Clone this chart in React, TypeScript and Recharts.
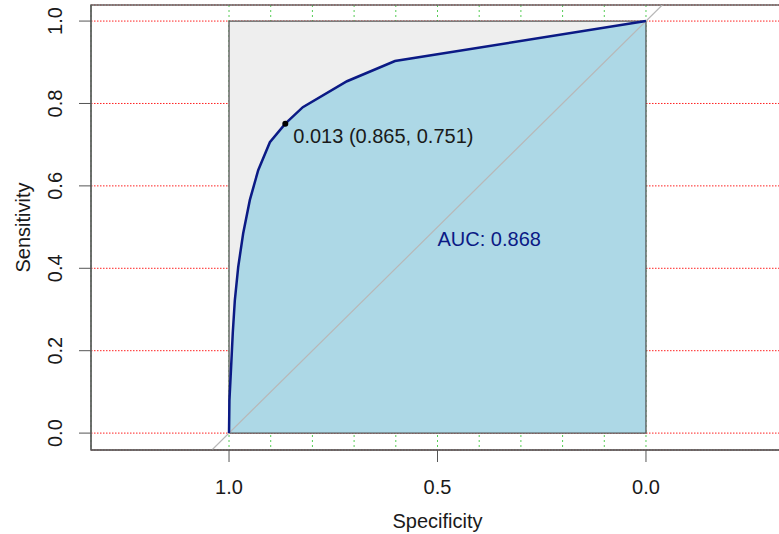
import {
  Area,
  CartesianGrid,
  ComposedChart,
  Line,
  ReferenceArea,
  Scatter,
  XAxis,
  YAxis,
} from "recharts";

// ROC curve (specificity runs 1 -> 0 along the curve)
const rocSpecificity = [1, 0.999, 0.995, 0.991, 0.986, 0.978, 0.966, 0.95, 0.93, 0.902, 0.865, 0.823, 0.717, 0.602, 0];
const rocSensitivity = [0, 0.08, 0.16, 0.243, 0.323, 0.403, 0.485, 0.566, 0.638, 0.706, 0.751, 0.791, 0.854, 0.903, 1];

// the max-AUC square and the chance diagonal
const squareSpec = [1, 1, 0, 0, 1];
const squareSens = [0, 1, 1, 0, 0];
const diagSpec = [1.041, -0.039];
const diagSens = [-0.041, 1.039];

const xTicks = [1, 0.5, 0];
const yTicks = [0, 0.2, 0.4, 0.6, 0.8, 1];
const gridX = [0, 0.1, 0.2, 0.3, 0.4, 0.5, 0.6, 0.7, 0.8, 0.9, 1];

const X_DOMAIN: [number, number] = [-0.331, 1.331];
const Y_DOMAIN: [number, number] = [-0.041, 1.039];

const threshold = { spec: 0.865, sens: 0.751 };
const thresholdLabel = "0.013 (0.865, 0.751)";
const aucPos = { spec: 0.5, sens: 0.47 };
const aucLabel = "AUC: 0.868";

const FONT = "'Liberation Sans', Arial, sans-serif";
const NAVY = "#0b1a85";

const zip = (xs: number[], ys: number[]) => xs.map((x, i) => ({ x, y: ys[i] }));

const rocData = zip(rocSpecificity, rocSensitivity);
const squareTop = [
  { x: 1, y: 1 },
  { x: 0, y: 1 },
];
const squareData = zip(squareSpec, squareSens);
const diagData = zip(diagSpec, diagSens);

function XTick({ x, y, payload }: any) {
  return (
    <text x={x} y={y} textAnchor="middle" dominantBaseline="central" fontSize={20} fontFamily={FONT} fill="#1a1a1a">
      {Number(payload.value).toFixed(1)}
    </text>
  );
}

function YTick({ x, y, payload }: any) {
  return (
    <text
      x={x}
      y={y}
      transform={`rotate(-90, ${x}, ${y})`}
      textAnchor="middle"
      dominantBaseline="central"
      fontSize={20}
      fontFamily={FONT}
      fill="#1a1a1a"
    >
      {Number(payload.value).toFixed(1)}
    </text>
  );
}

function YTitle({ viewBox }: any) {
  const x = viewBox.x + 23;
  const y = viewBox.y + viewBox.height / 2;
  return (
    <text x={x} y={y} transform={`rotate(-90, ${x}, ${y})`} textAnchor="middle" dominantBaseline="central" fontSize={20} fontFamily={FONT} fill="#1a1a1a">
      Sensitivity
    </text>
  );
}

function XTitle({ viewBox }: any) {
  return (
    <text x={viewBox.x + viewBox.width / 2} y={viewBox.y + 71} textAnchor="middle" dominantBaseline="central" fontSize={20} fontFamily={FONT} fill="#1a1a1a">
      Specificity
    </text>
  );
}

function ThresholdShape({ cx, cy }: any) {
  return (
    <g>
      <circle cx={cx} cy={cy} r={3} fill="#000" />
      <text x={cx + 8} y={cy + 12} dominantBaseline="central" fontSize={20} fontFamily={FONT} fill="#1a1a1a">
        {thresholdLabel}
      </text>
    </g>
  );
}

function AucShape({ cx, cy }: any) {
  return (
    <text x={cx} y={cy} dominantBaseline="central" fontSize={20} fontFamily={FONT} fill={NAVY}>
      {aucLabel}
    </text>
  );
}

export default function App() {
  return (
    <div style={{ position: "absolute", left: 0, top: 0, width: 779, height: 534, overflow: "hidden", background: "#fff" }}>
      <ComposedChart width={800} height={534} margin={{ top: 5, right: 16, bottom: 0, left: 0 }}>
        <XAxis
          dataKey="x"
          type="number"
          reversed
          domain={X_DOMAIN}
          allowDataOverflow
          ticks={xTicks}
          tick={<XTick />}
          tickSize={12}
          tickMargin={25}
          height={84}
          stroke="#555"
          label={<XTitle />}
        />
        <XAxis xAxisId="grid" dataKey="x" type="number" reversed domain={X_DOMAIN} allowDataOverflow ticks={gridX} hide />
        <YAxis
          dataKey="y"
          type="number"
          domain={Y_DOMAIN}
          allowDataOverflow
          ticks={yTicks}
          tick={<YTick />}
          tickSize={12}
          tickMargin={24}
          width={91}
          stroke="#555"
          label={<YTitle />}
        />
        <CartesianGrid vertical={false} stroke="#ff2020" strokeDasharray="1.5 1.5" />
        <CartesianGrid horizontal={false} xAxisId="grid" stroke="#55cc55" strokeDasharray="2 3" />

        <Area data={squareTop} dataKey="y" type="linear" baseValue={0} fill="#eeeeee" fillOpacity={1} stroke="none" isAnimationActive={false} dot={false} activeDot={false} />
        <Area data={rocData} dataKey="y" type="linear" baseValue={0} fill="#add8e6" fillOpacity={1} stroke="none" isAnimationActive={false} dot={false} activeDot={false} />
        <Line data={squareData} dataKey="y" type="linear" stroke="#555" strokeWidth={1.3} dot={false} activeDot={false} isAnimationActive={false} />
        <Line data={diagData} dataKey="y" type="linear" stroke="#b8b8b8" strokeWidth={1.2} dot={false} activeDot={false} isAnimationActive={false} />
        <Line data={rocData} dataKey="y" type="linear" stroke={NAVY} strokeWidth={2.5} dot={false} activeDot={false} isAnimationActive={false} />

        <ReferenceArea x1={X_DOMAIN[0]} x2={X_DOMAIN[1]} y1={Y_DOMAIN[0]} y2={Y_DOMAIN[1]} fill="none" stroke="#666" strokeWidth={1.5} />

        <Scatter data={[{ x: threshold.spec, y: threshold.sens }]} dataKey="y" shape={<ThresholdShape />} isAnimationActive={false} />
        <Scatter data={[{ x: aucPos.spec, y: aucPos.sens }]} dataKey="y" shape={<AucShape />} isAnimationActive={false} />
      </ComposedChart>
    </div>
  );
}
